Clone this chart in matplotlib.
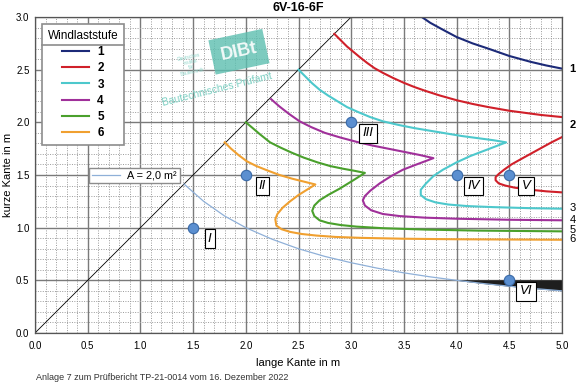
import numpy as np
import matplotlib
matplotlib.use("Agg")
import matplotlib.pyplot as plt
from matplotlib.lines import Line2D
from matplotlib.transforms import IdentityTransform

plt.rcParams['font.family'] = ['Liberation Sans', 'DejaVu Sans']

# Windlaststufe curves (lange Kante x, kurze Kante y)
stufe1_x = [3.67, 3.75, 3.85, 4.0, 4.15, 4.3, 4.5, 4.7, 4.85, 5.0]
stufe1_y = [3.0, 2.945, 2.89, 2.81, 2.75, 2.70, 2.63, 2.575, 2.54, 2.51]

stufe2_x = [2.84, 2.9, 2.96, 3.02, 3.08, 3.15, 3.22, 3.3, 3.4, 3.5, 3.6, 3.7,
            3.84, 4.0, 4.15, 4.3, 4.5, 4.65, 4.8, 5.0]
stufe2_y = [2.84, 2.78, 2.72, 2.67, 2.62, 2.565, 2.515, 2.47, 2.42, 2.375, 2.335, 2.30,
            2.255, 2.21, 2.175, 2.145, 2.11, 2.09, 2.07, 2.05]
stufe2b_x = [5.0, 4.9, 4.8, 4.7, 4.6, 4.52, 4.45, 4.40, 4.37, 4.37, 4.40, 4.46,
             4.55, 4.7, 4.85, 5.0]
stufe2b_y = [1.86, 1.81, 1.755, 1.70, 1.645, 1.60, 1.55, 1.51, 1.48, 1.45, 1.42, 1.40,
             1.38, 1.36, 1.345, 1.335]

stufe3_x = [2.50, 2.56, 2.63, 2.70, 2.78, 2.87, 2.96, 3.06, 3.18, 3.3, 3.45, 3.6,
            3.75, 3.9, 4.05, 4.2, 4.35, 4.47,
            4.3, 4.13, 4.0, 3.87, 3.78, 3.71, 3.66, 3.66, 3.71, 3.8, 3.92, 4.1,
            4.35, 4.7, 5.0]
stufe3_y = [2.50, 2.44, 2.37, 2.31, 2.255, 2.20, 2.145, 2.10, 2.05, 2.01, 1.975, 1.945,
            1.92, 1.895, 1.87, 1.85, 1.83, 1.81,
            1.745, 1.68, 1.62, 1.55, 1.49, 1.42, 1.36, 1.31, 1.27, 1.24, 1.22, 1.205,
            1.195, 1.185, 1.18]

stufe4_x = [2.24, 2.32, 2.41, 2.51, 2.62, 2.75, 2.9, 3.05, 3.2, 3.35, 3.5, 3.65, 3.78,
            3.62, 3.49, 3.38, 3.27, 3.18, 3.13, 3.11, 3.13, 3.19, 3.3, 3.46, 3.7,
            4.0, 4.5, 5.0]
stufe4_y = [2.22, 2.15, 2.08, 2.01, 1.955, 1.90, 1.855, 1.815, 1.78, 1.75, 1.72, 1.69, 1.66,
            1.60, 1.55, 1.49, 1.42, 1.35, 1.30, 1.26, 1.21, 1.165, 1.13, 1.11, 1.095,
            1.085, 1.075, 1.07]

stufe5_x = [2.0, 2.06, 2.13, 2.23, 2.33, 2.44, 2.55, 2.68, 2.8, 2.92, 3.03, 3.13,
            3.02, 2.89, 2.78, 2.70, 2.65, 2.63, 2.65, 2.70, 2.78, 2.9, 3.05, 3.3,
            3.7, 4.2, 5.0]
stufe5_y = [2.0, 1.95, 1.89, 1.81, 1.76, 1.71, 1.665, 1.62, 1.585, 1.56, 1.54, 1.52,
            1.45, 1.37, 1.31, 1.26, 1.21, 1.16, 1.11, 1.07, 1.045, 1.025, 1.01, 0.995,
            0.982, 0.972, 0.965]

stufe6_x = [1.80, 1.86, 1.93, 2.01, 2.1, 2.2, 2.32, 2.44, 2.56, 2.66,
            2.58, 2.50, 2.42, 2.35, 2.30, 2.28, 2.29, 2.34, 2.42, 2.53, 2.67, 2.85,
            3.1, 3.5, 4.0, 5.0]
stufe6_y = [1.81, 1.75, 1.69, 1.63, 1.585, 1.545, 1.50, 1.465, 1.435, 1.41,
            1.36, 1.31, 1.25, 1.19, 1.13, 1.08, 1.02, 0.985, 0.96, 0.94, 0.925, 0.912,
            0.903, 0.895, 0.89, 0.885]

# A = 2,0 m2 line and the shaded band below 0.5 m
area_x = [1.414, 1.6, 1.8, 2.0, 2.25, 2.5, 2.75, 3.0, 3.25, 3.5, 3.75, 4.0, 4.25, 4.5, 4.75, 5.0]
area_y = [1.414, 1.25, 1.11, 1.0, 0.89, 0.80, 0.727, 0.667, 0.615, 0.571, 0.533, 0.5, 0.47, 0.444, 0.421, 0.4]
band_x = [3.95, 4.0, 4.25, 4.5, 4.75, 5.0]
band_low = [0.506, 0.5, 0.47, 0.444, 0.421, 0.4]
band_high = [0.505, 0.505, 0.505, 0.505, 0.505, 0.505]

diag = [0.0, 3.0]

# test points
pts_x = [1.5, 2.0, 3.0, 4.0, 4.5, 4.5]
pts_y = [1.0, 1.5, 2.0, 1.5, 1.5, 0.5]
pts_names = ['I', 'II', 'III', 'IV', 'V', 'VI']

stufen = ['1', '2', '3', '4', '5', '6']
colors = ['#1c2a78', '#d0202a', '#4dc8cc', '#a0309a', '#4aa02c', '#f0a030']
end_label_y = [2.51, 1.97, 1.19, 1.076, 0.98, 0.895]
end_label_w = ['bold', 'bold', 'normal', 'normal', 'normal', 'normal']

fig = plt.figure(figsize=(5.8, 3.9), dpi=100)
ax = fig.add_axes([35 / 580, 1 - 333 / 390, 527 / 580, 316 / 390])

ax.set_xlim(0, 5)
ax.set_ylim(0, 3)
ax.set_xticks(np.arange(0, 5.01, 0.5))
ax.set_yticks(np.arange(0, 3.01, 0.5))
ax.set_xticks(np.arange(0, 5.01, 0.1), minor=True)
ax.set_yticks(np.arange(0, 3.01, 0.1), minor=True)
ax.xaxis.set_major_formatter(matplotlib.ticker.FormatStrFormatter('%.1f'))
ax.yaxis.set_major_formatter(matplotlib.ticker.FormatStrFormatter('%.1f'))
ax.tick_params(which='both', length=0, labelsize=7)
ax.tick_params(axis='x', pad=6)
ax.tick_params(axis='y', pad=4)
ax.grid(which='minor', color='#9a9a9a', ls=(0, (1, 1.5)), lw=0.7)
ax.grid(which='major', color='#7a7a7a', lw=1.0)
ax.set_axisbelow(True)
for s in ax.spines.values():
    s.set_color('#555555')
    s.set_linewidth(0.9)

# watermark
ax.text(0.387, 0.89, 'DIBt', transform=ax.transAxes, rotation=12, fontsize=13,
        fontweight='bold', color='white', ha='center', va='center', alpha=0.9,
        bbox=dict(boxstyle='square,pad=0.5', facecolor='#5cbfb0', edgecolor='none', alpha=0.8))
ax.text(0.345, 0.77, 'Bautechnisches Prüfamt', transform=ax.transAxes, rotation=14,
        fontsize=7.5, color='#7ccfc2', ha='center', va='center')
ax.text(0.295, 0.85, 'Deutsches\nInstitut\nfür\nBautechnik', transform=ax.transAxes,
        rotation=12, fontsize=3.5, color='#8fd5ca', ha='center', va='center', linespacing=1.0)

# diagonal and area line
ax.plot(diag, diag, color='black', lw=0.6)
a_line, = ax.plot(area_x, area_y, color='#8fb0d8', lw=0.9)
ax.fill_between(band_x, band_low, band_high, color='#1e1e1e', lw=0)

# wind load curves
handles = []
h, = ax.plot(stufe1_x, stufe1_y, color=colors[0], lw=1.5)
handles.append(h)
h, = ax.plot(stufe2_x, stufe2_y, color=colors[1], lw=1.5)
ax.plot(stufe2b_x, stufe2b_y, color=colors[1], lw=1.5)
handles.append(h)
for cx, cy, c in [(stufe3_x, stufe3_y, colors[2]), (stufe4_x, stufe4_y, colors[3]),
                  (stufe5_x, stufe5_y, colors[4]), (stufe6_x, stufe6_y, colors[5])]:
    h, = ax.plot(cx, cy, color=c, lw=1.5)
    handles.append(h)

# labels at the right edge
for ly, lab, w in zip(end_label_y, stufen, end_label_w):
    ax.text(5.07, ly, lab, fontsize=8, fontweight=w, ha='left', va='center', clip_on=False)

# test points with roman numerals
ax.plot(pts_x, pts_y, 'o', ms=7.5, mfc='#5b8fd0', mec='#3a6aa8', mew=0.8, zorder=5)
for px, py, name in zip(pts_x, pts_y, pts_names):
    ax.annotate(name, (px, py), xytext=(12, -8), textcoords='offset points',
                fontsize=9.5, fontstyle='italic', ha='center', va='center', zorder=6,
                bbox=dict(boxstyle='square,pad=0.25', facecolor='white', edgecolor='black', lw=0.8))

# legends
leg1 = ax.legend(handles, stufen, loc='upper left', bbox_to_anchor=(0.0127, 0.978),
                 borderaxespad=0, fancybox=False, framealpha=1, title='Windlaststufe',
                 prop=dict(weight='bold', size=8.5), title_fontproperties=dict(size=8.5),
                 handlelength=2.3, handletextpad=0.7, labelspacing=0.36, borderpad=0.5)
leg1.get_frame().set_edgecolor('#8c8c8c')
leg1.get_frame().set_linewidth(1.2)
ax.add_artist(leg1)

leg2 = ax.legend([a_line], ['A = 2,0 m²'], loc='upper left', bbox_to_anchor=(0.1025, 0.522),
                 borderaxespad=0, fancybox=False, framealpha=1, prop=dict(size=7.8),
                 handlelength=2.6, handletextpad=0.7, borderpad=0.25)
leg2.get_frame().set_edgecolor('#8c8c8c')
leg2.get_frame().set_linewidth(1.0)

ax.set_xlabel('lange Kante in m', fontsize=8, labelpad=5)
ax.set_ylabel('kurze Kante in m', fontsize=8)
ax.yaxis.set_label_coords(-0.042, 0.5)
fig.text(298 / 580, 1 - 8 / 390, '6V-16-6F', fontsize=9, fontweight='bold', ha='center', va='center')
fig.text(36 / 580, 1 - 378 / 390, 'Anlage 7 zum Prüfbericht TP-21-0014 vom 16. Dezember 2022',
         fontsize=6.5, color='#333333', ha='left', va='center')

# separator line under the legend title
fig.canvas.draw()
bb = leg1.get_window_extent()
tb = leg1.get_title().get_window_extent()
sep_y = tb.y0 - 3
fig.add_artist(Line2D([bb.x0, bb.x1], [sep_y, sep_y], transform=IdentityTransform(),
                      color='#8c8c8c', lw=1.2))

plt.savefig('out.png', dpi=100)
